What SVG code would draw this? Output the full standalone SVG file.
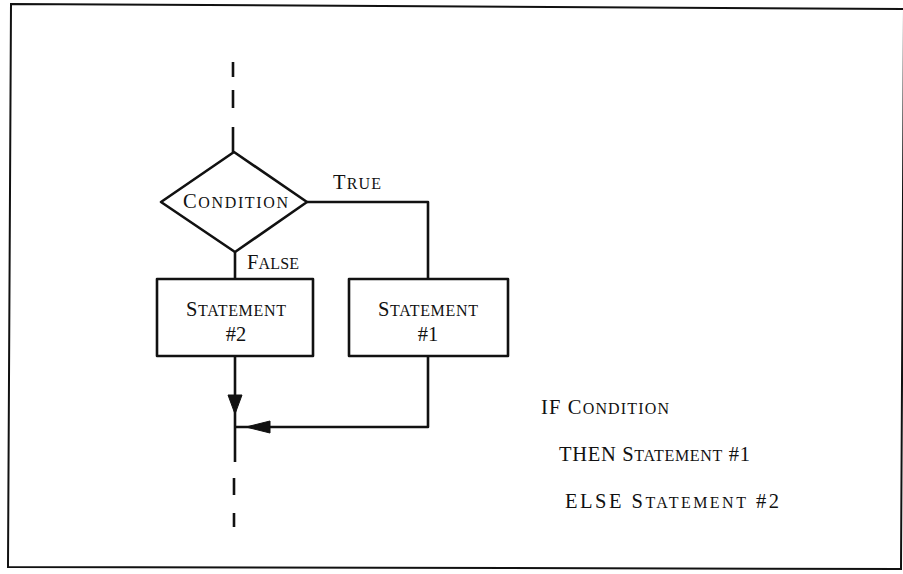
<svg xmlns="http://www.w3.org/2000/svg" width="903" height="574" viewBox="0 0 903 574">
<style>
.ln{fill:none;stroke:#111;stroke-width:2.6;stroke-linejoin:round;stroke-linecap:butt}
.shape{fill:#fff;stroke:#111;stroke-width:2.6;stroke-linejoin:round}
.ah{fill:#111;stroke:#111;stroke-width:1}
text{font-family:"Liberation Serif","Times New Roman",serif;fill:#111}
.lbl{font-size:20.5px}
.sc{font-size:16px}
</style>
<rect width="903" height="574" fill="#fff"/>
<polygon points="11,4 904,9 901,569 8,567" fill="none" stroke="#111" stroke-width="2"/>
<g id="connectors">
<path class="ln" d="M233,62 V77 M233,90 V108 M233,127 V152"/>
<path class="ln" d="M235,252 V279"/>
<path class="ln" d="M307,202 H428 V279"/>
<path class="ln" d="M235,356 V462"/>
<path class="ln" d="M428,356 V427 H235"/>
<path class="ln" d="M234,478 V495 M234,513 V527"/>
<polygon class="ah" points="228,395 242,395 235,414"/>
<polygon class="ah" points="270,421 270,433 246,427"/>
<text class="lbl" x="333" y="189" textLength="48" lengthAdjust="spacing">T<tspan class="sc">RUE</tspan></text>
<text class="lbl" x="247" y="269" textLength="52" lengthAdjust="spacing">F<tspan class="sc">ALSE</tspan></text>
</g>
<g id="condition">
<polygon class="shape" points="234,152 307,202 235,252 161,202"/>
<text class="lbl" x="183" y="208" textLength="105" lengthAdjust="spacing">C<tspan class="sc">ONDITION</tspan></text>
</g>
<g id="statement2">
<rect class="shape" x="157" y="279" width="156" height="77"/>
<text class="lbl" x="186" y="316" textLength="100" lengthAdjust="spacing">S<tspan class="sc">TATEMENT</tspan></text>
<text class="lbl" x="236" y="341" text-anchor="middle">#2</text>
</g>
<g id="statement1">
<rect class="shape" x="349" y="279" width="159" height="77"/>
<text class="lbl" x="378" y="316" textLength="100" lengthAdjust="spacing">S<tspan class="sc">TATEMENT</tspan></text>
<text class="lbl" x="428" y="341" text-anchor="middle">#1</text>
</g>
<g id="code">
<text class="lbl" x="541" y="414" textLength="128" lengthAdjust="spacing">IF C<tspan class="sc">ONDITION</tspan></text>
<text class="lbl" x="559" y="461" textLength="191" lengthAdjust="spacing">THEN S<tspan class="sc">TATEMENT</tspan> #1</text>
<text class="lbl" x="565" y="508" textLength="214" lengthAdjust="spacing">ELSE S<tspan class="sc">TATEMENT</tspan> #2</text>
</g>
</svg>
